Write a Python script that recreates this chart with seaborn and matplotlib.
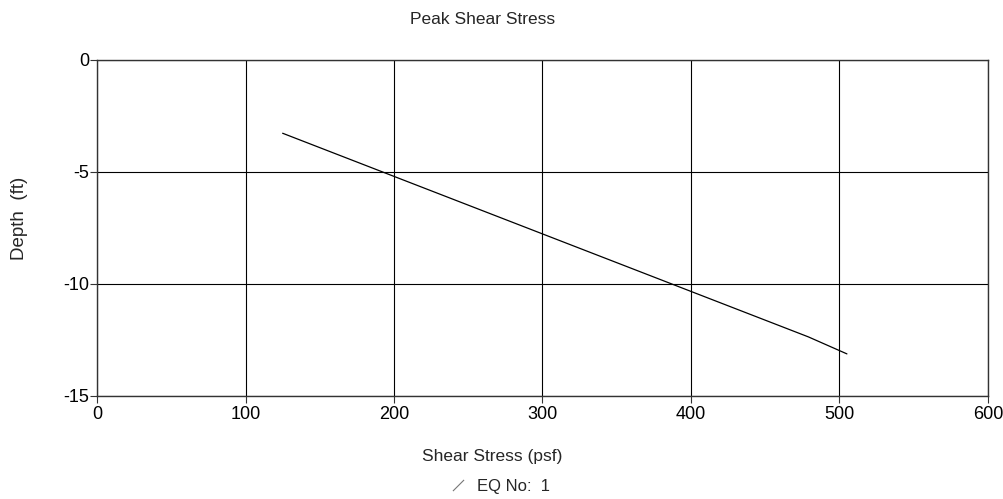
import matplotlib
matplotlib.use("Agg")
import matplotlib.pyplot as plt
from matplotlib.lines import Line2D
from matplotlib.path import Path
import seaborn as sns
import pandas as pd

# Data
shear_stress = [125, 479, 505]      # psf
depth = [-3.27, -12.36, -13.12]     # ft
x_ticks = [0, 100, 200, 300, 400, 500, 600]
y_ticks = [0, -5, -10, -15]
series_label = "EQ No:  1"

sns.set_theme(style="white")
plt.rcParams["font.family"] = ["Liberation Sans", "DejaVu Sans"]

df = pd.DataFrame({"Shear Stress (psf)": shear_stress, "Depth (ft)": depth})

W, H = 1004, 499
fig = plt.figure(figsize=(W / 100, H / 100), dpi=100)
ax = fig.add_axes([97 / W, 1 - 396 / H, (988 - 97) / W, (396 - 60) / H])

sns.lineplot(data=df, x="Shear Stress (psf)", y="Depth (ft)", sort=False,
             estimator=None, color="black", linewidth=0.9, ax=ax)

ax.set_xlim(0, 600)
ax.set_ylim(-15, 0)
ax.set_xticks(x_ticks)
ax.set_yticks(y_ticks)
ax.set_xticklabels([str(t) for t in x_ticks], fontsize=13)
ax.set_yticklabels([str(t) for t in y_ticks], fontsize=13)
ax.grid(True, color="black", linewidth=0.8)
for s in ax.spines.values():
    s.set_color("#333333")
    s.set_linewidth(1.0)
ax.tick_params(axis="both", direction="out", length=5, width=0.8, color="#333333",
               bottom=True, left=True, labelcolor="black")
ax.tick_params(axis="x", pad=2)
ax.tick_params(axis="y", pad=0.5)
ax.set_xlabel("")
ax.set_ylabel("")

fig.text(483 / W, 1 - 20 / H, "Peak Shear Stress", ha="center", va="center", fontsize=12.5)
fig.text(492 / W, 1 - 456 / H, "Shear Stress (psf)", ha="center", va="center", fontsize=12.5)
fig.text(19 / W, 1 - 218 / H, "Depth  (ft)", ha="center", va="center", rotation=90, fontsize=13.5)

slash = Path([(-1, -1), (1, 1)], [Path.MOVETO, Path.LINETO])
handle = Line2D([], [], linestyle="None", marker=slash, markersize=8,
                markeredgecolor="#777777", markeredgewidth=0.8)
fig.legend([handle], [series_label], loc="center", bbox_to_anchor=(500 / W, 1 - 486 / H),
           frameon=False, fontsize=12, handlelength=1.0, handletextpad=0.6,
           borderpad=0, borderaxespad=0)

fig.savefig("out.png", dpi=100)
